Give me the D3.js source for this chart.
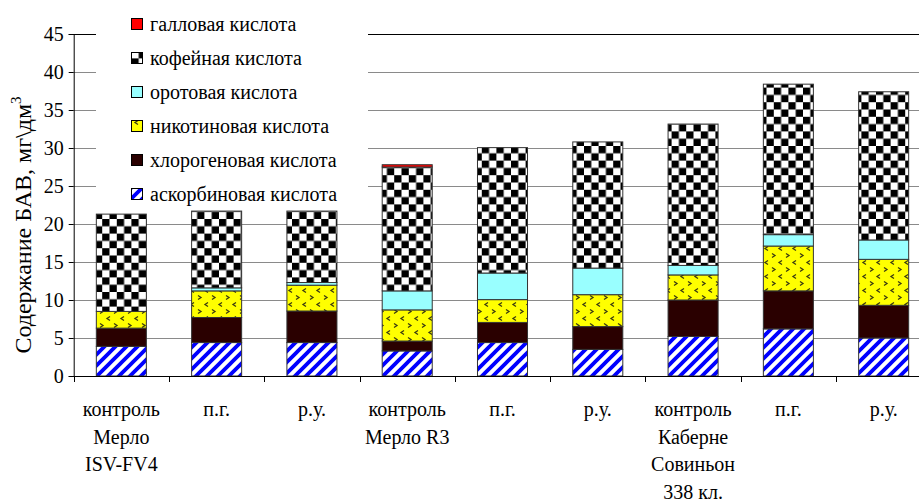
<!DOCTYPE html>
<html>
<head>
<meta charset="utf-8">
<script src="https://cdn.jsdelivr.net/npm/d3@7"></script>
<style>
  html, body { margin: 0; padding: 0; background: #fff; }
  svg { display: block; font-family: "Liberation Serif", "Times New Roman", serif; }
</style>
</head>
<body>
<svg id="chart" width="919" height="503"></svg>
<script>
// Samples (x-axis groups), each label split into lines
const categories = ["c1", "c2", "c3", "c4", "c5", "c6", "c7", "c8", "c9"];
const categoryLabels = [
  ["контроль", "Мерло", "ISV-FV4"],
  ["п.г."],
  ["р.у."],
  ["контроль", "Мерло R3"],
  ["п.г."],
  ["р.у."],
  ["контроль", "Каберне", "Совиньон", "338 кл."],
  ["п.г."],
  ["р.у."]
];

// Acid contents, mg/dm3, stacked bottom to top
const ascorbic     = [3.9, 4.4, 4.4, 3.3, 4.4, 3.5, 5.2, 6.2, 5.0];
const chlorogenic  = [2.4, 3.3, 4.15, 1.3, 2.65, 3.0, 4.8, 5.0, 4.3];
const nicotinic    = [2.2, 3.5, 3.4, 4.1, 3.0, 4.2, 3.3, 5.9, 6.05];
const orotic       = [0, 0.4, 0.35, 2.5, 3.5, 3.5, 1.25, 1.5, 2.55];
const caffeic      = [12.8, 10.1, 9.4, 16.3, 16.5, 16.6, 18.6, 19.8, 19.5];
const gallic       = [0, 0, 0, 0.3, 0, 0, 0, 0, 0];

const seriesNames = ["аскорбиновая кислота", "хлорогеновая кислота", "никотиновая кислота",
                     "оротовая кислота", "кофейная кислота", "галловая кислота"];
const yTicks = [0, 5, 10, 15, 20, 25, 30, 35, 40, 45];
const yTitle = "Содержание БАВ, мг\\дм";

const seriesValues = [ascorbic, chlorogenic, nicotinic, orotic, caffeic, gallic];
const fills = ["url(#p-asc)", "#2a0000", "url(#p-nic)", "#99ffff", "url(#p-caf)", "#ff0000"];

const svg = d3.select("#chart");
const plotLeft = 73.7, plotRight = 931.3, plotTop = 34, plotBottom = 376;
const fontSize = 20;

// Fill patterns
const defs = svg.append("defs");
const pAsc = defs.append("pattern").attr("id", "p-asc")
  .attr("patternUnits", "userSpaceOnUse").attr("width", 11).attr("height", 11);
pAsc.append("rect").attr("width", 11).attr("height", 11).attr("fill", "#fff");
pAsc.append("path").attr("d", "M-3,3 L3,-3 M0,11 L11,0 M8,14 L14,8")
  .attr("stroke", "#0000ff").attr("stroke-width", 3.8);

const cs = 7.3;
const pCaf = defs.append("pattern").attr("id", "p-caf")
  .attr("patternUnits", "userSpaceOnUse").attr("width", cs * 2).attr("height", cs * 2);
pCaf.append("rect").attr("width", cs * 2).attr("height", cs * 2).attr("fill", "#fff");
pCaf.append("rect").attr("width", cs).attr("height", cs).attr("fill", "#000");
pCaf.append("rect").attr("x", cs).attr("y", cs).attr("width", cs).attr("height", cs).attr("fill", "#000");

const pNic = defs.append("pattern").attr("id", "p-nic")
  .attr("patternUnits", "userSpaceOnUse").attr("width", 14).attr("height", 14);
pNic.append("rect").attr("width", 14).attr("height", 14).attr("fill", "#ffff00");
pNic.append("path").attr("d", "M2,1.5 L5,3.5 L2,5.5 M12,8.5 L9,10.5 L12,12.5")
  .attr("fill", "none").attr("stroke", "#3a3a10").attr("stroke-width", 1.3);

// Scales
const x = d3.scaleBand().domain(categories).range([plotLeft, plotRight])
  .paddingInner(0.475).paddingOuter(0.2375);
const y = d3.scaleLinear().domain([0, 45]).range([plotBottom, plotTop]);

// Gridlines
svg.append("g").selectAll("line").data(yTicks.filter(d => d > 0)).join("line")
  .attr("x1", plotLeft).attr("x2", 919)
  .attr("y1", d => Math.round(y(d)) + 0.5).attr("y2", d => Math.round(y(d)) + 0.5)
  .attr("stroke", d => d === 45 ? "#000" : "#8a8a8a").attr("stroke-width", 1);

// Stacked bars
const rows = categories.map((c, i) => {
  const r = { cat: c };
  seriesValues.forEach((s, k) => { r["s" + k] = s[i]; });
  return r;
});
const stack = d3.stack().keys(seriesValues.map((s, k) => "s" + k))(rows);

const barG = svg.append("g");
stack.forEach((layer, k) => {
  barG.append("g").selectAll("rect").data(layer.filter(d => d[1] - d[0] > 0)).join("rect")
    .attr("x", d => x(d.data.cat))
    .attr("width", x.bandwidth())
    .attr("y", d => y(d[1]))
    .attr("height", d => y(d[0]) - y(d[1]))
    .attr("fill", fills[k])
    .attr("stroke", "#333").attr("stroke-width", 1);
});

// Y axis
const yAxis = d3.axisLeft(y).tickValues(yTicks).tickSize(5).tickPadding(5);
const gy = svg.append("g").attr("transform", `translate(${plotLeft},0)`).call(yAxis);
gy.select(".domain").attr("stroke", "#000");
gy.selectAll(".tick line").attr("stroke", "#000");
gy.selectAll("text").attr("font-size", fontSize).attr("fill", "#000")
  .attr("font-family", "'Liberation Serif', 'Times New Roman', serif");

// X axis baseline with ticks at group boundaries
svg.append("line").attr("x1", plotLeft).attr("x2", 919)
  .attr("y1", plotBottom + 0.5).attr("y2", plotBottom + 0.5).attr("stroke", "#000");
const gap = x.step() - x.bandwidth();
const bounds = categories.map(c => x(c) - gap / 2).concat([x(categories[categories.length - 1]) + x.bandwidth() + gap / 2]);
svg.append("g").selectAll("line").data(bounds).join("line")
  .attr("x1", d => Math.round(d) + 0.5).attr("x2", d => Math.round(d) + 0.5)
  .attr("y1", plotBottom).attr("y2", plotBottom + 6).attr("stroke", "#000");

// Category labels
const lab = svg.append("g").attr("font-size", fontSize).attr("text-anchor", "middle");
categories.forEach((c, i) => {
  const cx = x(c) + x.bandwidth() / 2;
  const t = lab.append("text").attr("x", cx).attr("y", 416);
  categoryLabels[i].forEach((ln, j) => {
    t.append("tspan").attr("x", cx).attr("y", 416 + j * 27.5).text(ln);
  });
});

// Y title
const yt = svg.append("text").attr("font-size", 24).attr("text-anchor", "middle")
  .attr("transform", "translate(31,225) rotate(-90)");
yt.append("tspan").text(yTitle);
yt.append("tspan").attr("dy", -10).attr("font-size", 15).text("3");

// Legend
const lg = svg.append("g");
lg.append("rect").attr("x", 96).attr("y", 5).attr("width", 272).attr("height", 203).attr("fill", "#fff");
const legendOrder = [5, 4, 3, 2, 1, 0];
legendOrder.forEach((k, i) => {
  const cy = 24 + i * 34;
  lg.append("rect").attr("x", 131.5).attr("y", cy - 5.5).attr("width", 11).attr("height", 11)
    .attr("fill", fills[k]).attr("stroke", "#000").attr("stroke-width", 1);
  lg.append("text").attr("x", 150).attr("y", cy + 6.5).attr("font-size", fontSize).text(seriesNames[k]);
});
</script>
</body>
</html>
